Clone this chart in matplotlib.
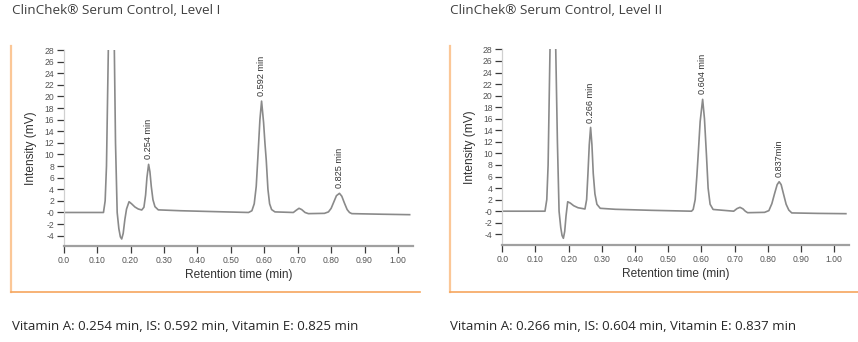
import matplotlib
matplotlib.use('Agg')
import matplotlib.pyplot as plt
from matplotlib.lines import Line2D

# chromatogram traces (time in min, intensity in mV)
TIME_L1 = [0.000, 0.119, 0.124, 0.128, 0.1335, 0.1425, 0.1515, 0.155, 0.160, 0.165,
           0.1695, 0.1735, 0.178, 0.183, 0.188, 0.1955, 0.203, 0.213, 0.223, 0.2335,
           0.240, 0.245, 0.249, 0.254, 0.258, 0.262, 0.267, 0.273, 0.283, 0.350,
           0.450, 0.553, 0.563, 0.570, 0.576, 0.581, 0.587, 0.592, 0.598, 0.602,
           0.606, 0.611, 0.616, 0.622, 0.632, 0.687, 0.696, 0.704, 0.712, 0.722,
           0.732, 0.780, 0.792, 0.800, 0.808, 0.816, 0.825, 0.832, 0.840, 0.848,
           0.855, 0.862, 0.950, 1.035]
SIGNAL_L1 = [0.00, 0.00, 2.0, 8.0, 28.0, 55.0, 28.0, 12.0, 0.0, -2.8,
             -4.2, -4.57, -3.6, -1.2, 0.6, 1.86, 1.5, 0.95, 0.6, 0.43,
             0.9, 3.0, 6.0, 8.3, 7.0, 4.5, 2.2, 1.0, 0.45, 0.3,
             0.15, 0.0, 0.3, 1.5, 4.5, 9.6, 16.0, 19.2, 15.5, 12.0,
             9.0, 4.0, 1.5, 0.5, 0.1, 0.0, 0.4, 0.72, 0.5, 0.0,
             -0.2, -0.15, 0.1, 0.7, 1.8, 2.9, 3.3, 2.8, 1.6, 0.5,
             0.0, -0.2, -0.3, -0.38]

TIME_L2 = [0.000, 0.1286, 0.134, 0.138, 0.1437, 0.152, 0.161, 0.166, 0.171, 0.176,
           0.180, 0.184, 0.188, 0.192, 0.197, 0.205, 0.215, 0.228, 0.249, 0.254,
           0.258, 0.262, 0.266, 0.270, 0.274, 0.279, 0.285, 0.295, 0.340, 0.450,
           0.570, 0.575, 0.581, 0.586, 0.590, 0.596, 0.6035, 0.609, 0.615, 0.620,
           0.626, 0.635, 0.697, 0.707, 0.716, 0.725, 0.732, 0.739, 0.790, 0.803,
           0.812, 0.820, 0.828, 0.834, 0.840, 0.847, 0.855, 0.863, 0.872, 0.950,
           1.035]
SIGNAL_L2 = [0.00, 0.00, 2.0, 8.0, 28.0, 55.0, 28.0, 12.0, 0.0, -2.8,
             -4.2, -4.69, -3.5, -0.8, 1.64, 1.4, 0.95, 0.6, 0.38, 2.0,
             6.5, 11.5, 14.5, 11.5, 6.5, 3.0, 1.2, 0.5, 0.33, 0.15,
             0.0, 0.3, 2.0, 6.0, 9.7, 15.5, 19.36, 16.0, 9.7, 4.0,
             1.2, 0.3, 0.0, 0.45, 0.67, 0.4, 0.0, -0.26, -0.2, 0.1,
             1.3, 3.0, 4.6, 5.1, 4.6, 3.0, 1.2, 0.2, -0.3, -0.38,
             -0.43]

PEAK_T_L1 = [0.254, 0.592, 0.825]
PEAK_Y_L1 = [8.3, 19.2, 3.3]
PEAK_LABELS_L1 = ['0.254 min', '0.592 min', '0.825 min']

PEAK_T_L2 = [0.266, 0.6035, 0.834]
PEAK_Y_L2 = [14.5, 19.36, 5.1]
PEAK_LABELS_L2 = ['0.266 min', '0.604 min', '0.837min']

TITLES = ['ClinChek\u00ae Serum Control, Level I', 'ClinChek\u00ae Serum Control, Level II']
CAPTIONS = ['Vitamin A: 0.254 min, IS: 0.592 min, Vitamin E: 0.825 min',
            'Vitamin A: 0.266 min, IS: 0.604 min, Vitamin E: 0.837 min']

Y_TICKS = list(range(-4, 29, 2))
Y_TICK_LABELS = ['-4', '-2', '-0'] + [str(v) for v in range(2, 29, 2)]
X_TICKS = [0.0, 0.1, 0.2, 0.3, 0.4, 0.5, 0.6, 0.7, 0.8, 0.9, 1.0]
X_TICK_LABELS = ['0.0', '0.10', '0.20', '0.30', '0.40', '0.50', '0.60', '0.70',
                 '0.80', '0.90', '1.00']

TRACE = '#8a8a8a'
TICK_C = '#3a3a3a'
ORANGE = '#f6a65e'
ORANGE_LIGHT = '#fbc797'
W, H = 858, 342

plt.rcParams['font.family'] = ['Liberation Sans', 'DejaVu Sans']

fig = plt.figure(figsize=(W / 100, H / 100), dpi=100)


def px(x0, y0, x1, y1):
    # pixel box (top-left origin) -> figure fraction rect
    return [x0 / W, 1 - y1 / H, (x1 - x0) / W, (y1 - y0) / H]


def chrom_panel(rect, ylo, t, y, pt, py, plabels):
    ax = fig.add_axes(rect)
    ax.plot(t, y, color=TRACE, lw=1.2, solid_joinstyle='round')
    ax.set_xlim(0, 1.045)
    ax.set_ylim(ylo, 28.05)
    ax.set_yticks(Y_TICKS)
    ax.set_yticklabels(Y_TICK_LABELS)
    ax.set_xticks(X_TICKS)
    ax.set_xticklabels(X_TICK_LABELS)
    ax.tick_params(axis='both', direction='out', length=5, width=0.9,
                   colors=TICK_C, labelsize=6.2, pad=2)
    for lab in ax.get_xticklabels() + ax.get_yticklabels():
        lab.set_color('#555555')
    for s in ('top', 'right'):
        ax.spines[s].set_visible(False)
    ax.spines['left'].set_color('#d0d0d0')
    ax.spines['left'].set_linewidth(0.9)
    ax.spines['bottom'].set_color('#a0a0a0')
    ax.spines['bottom'].set_linewidth(1.6)
    ax.set_xlabel('Retention time (min)', fontsize=8.6, color='#333333', labelpad=3)
    ax.set_ylabel('Intensity (mV)', fontsize=8.6, color='#333333', labelpad=5)
    for xt, yt, lab in zip(pt, py, plabels):
        ax.annotate(lab, xy=(xt, yt), xytext=(0, 3.5), textcoords='offset points',
                    rotation=90, ha='center', va='bottom', fontsize=6.6,
                    color='#333333')
    return ax


chrom_panel(px(63.7, 49.8, 413, 246), -5.78, TIME_L1, SIGNAL_L1,
            PEAK_T_L1, PEAK_Y_L1, PEAK_LABELS_L1)
chrom_panel(px(502.3, 49.1, 849.2, 245), -5.85, TIME_L2, SIGNAL_L2,
            PEAK_T_L2, PEAK_Y_L2, PEAK_LABELS_L2)

# orange L-shaped frames around each chromatogram
for x0, x1 in [(11, 420), (450, 858)]:
    fig.add_artist(Line2D([x0 / W, x0 / W], [1 - 45.5 / H, 1 - 292 / H],
                          transform=fig.transFigure, color=ORANGE_LIGHT, lw=1.6))
    fig.add_artist(Line2D([x0 / W, x1 / W], [1 - 292 / H, 1 - 292 / H],
                          transform=fig.transFigure, color=ORANGE, lw=1.2))

for x0, title, cap in zip([12, 450], TITLES, CAPTIONS):
    fig.text(x0 / W, 1 - 10 / H, title, fontsize=9.7, color='#404040',
             family=['Open Sans', 'DejaVu Sans'], va='center', ha='left')
    fig.text(x0 / W, 1 - 327 / H, cap, fontsize=9.55, color='#262626',
             family=['Open Sans', 'DejaVu Sans'], va='center', ha='left')

fig.savefig('out.png', dpi=100)
